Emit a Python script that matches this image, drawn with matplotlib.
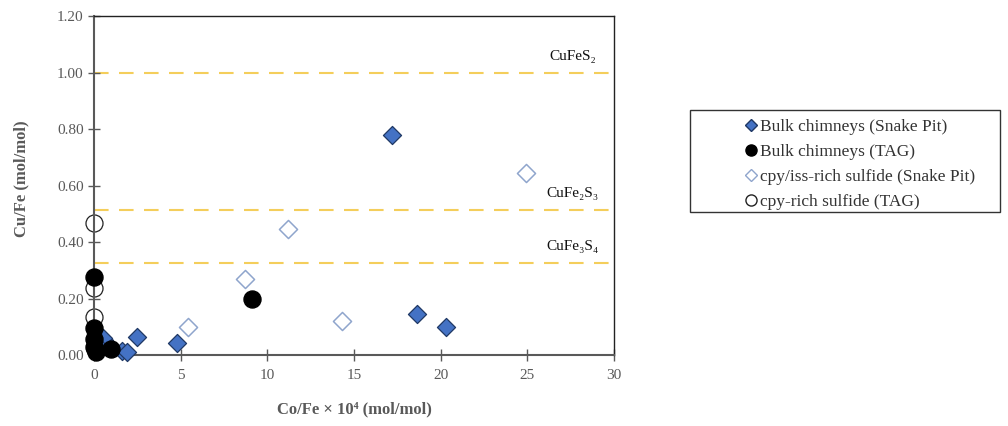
import matplotlib
matplotlib.use("Agg")
import matplotlib.pyplot as plt
from matplotlib.patches import Rectangle
from matplotlib.lines import Line2D

# data (Co/Fe x 10^4, Cu/Fe)
snake_bulk_x = [17.2, 18.6, 20.3, 2.5, 4.8, 1.6, 1.9, 0.6, 0.5, 0.3]
snake_bulk_y = [0.78, 0.145, 0.10, 0.063, 0.042, 0.015, 0.012, 0.053, 0.06, 0.03]

tag_bulk_x = [9.1, 0.95, 0.0, 0.0, 0.0, 0.0, 0.05, 0.1]
tag_bulk_y = [0.20, 0.022, 0.277, 0.095, 0.055, 0.03, 0.02, 0.012]

snake_cpy_x = [24.9, 11.2, 8.7, 14.3, 5.4]
snake_cpy_y = [0.645, 0.445, 0.27, 0.12, 0.10]

tag_cpy_x = [0.0, 0.0, 0.0]
tag_cpy_y = [0.467, 0.238, 0.135]

# reference mineral ratios
mineral_names = ["CuFeS₂", "CuFe₂S₃", "CuFe₃S₄"]
mineral_ratio = [1.00, 0.515, 0.325]

serif = ["Liberation Serif", "DejaVu Serif"]
plt.rcParams["font.family"] = serif
grey = "#595959"

fig = plt.figure(figsize=(10.08, 4.26), dpi=100)
ax = fig.add_axes([0.0933, 0.1667, 0.516, 0.7953])

# dashed reference lines
for name, r in zip(mineral_names, mineral_ratio):
    ax.plot([0, 30], [r, r], color="#F2C232", lw=1.5, dashes=(7, 5), alpha=0.8, zorder=1)
    ax.text(27.6, r + 0.035, name, ha="center", va="bottom", fontsize=11, color="#111111")

ax.scatter(snake_bulk_x, snake_bulk_y, marker="D", s=85, color="#4472C4",
           edgecolor="#1F3864", linewidth=0.9, zorder=3, clip_on=False)
ax.scatter(tag_bulk_x, tag_bulk_y, marker="o", s=150, color="black", zorder=4, clip_on=False)
ax.scatter(snake_cpy_x, snake_cpy_y, marker="D", s=85, facecolor="white",
           edgecolor="#8FA5CC", linewidth=1.1, zorder=3, clip_on=False)
ax.scatter(tag_cpy_x, tag_cpy_y, marker="o", s=150, facecolor="white",
           edgecolor="#222222", linewidth=0.9, zorder=2, clip_on=False)

ax.set_xlim(0, 30)
ax.set_ylim(0, 1.2)
ax.set_xticks([0, 5, 10, 15, 20, 25, 30])
ax.set_yticks([0, 0.2, 0.4, 0.6, 0.8, 1.0, 1.2])
ax.set_yticklabels([f"{v:.2f}" for v in ax.get_yticks()])
ax.tick_params(direction="inout", length=8, width=1, color=grey, labelcolor=grey,
               labelsize=11)
ax.tick_params(axis="x", pad=6)

for side in ["left", "bottom"]:
    ax.spines[side].set_color(grey)
    ax.spines[side].set_linewidth(1.5)
for side in ["top", "right"]:
    ax.spines[side].set_color("#222222")
    ax.spines[side].set_linewidth(1.0)

ax.set_ylabel("Cu/Fe (mol/mol)", fontsize=12, fontweight="bold", color=grey)
ax.yaxis.set_label_coords(-0.125, 0.52)
ax.set_xlabel("Co/Fe × 10⁴ (mol/mol)", fontsize=12, fontweight="bold", color=grey, labelpad=14)

# legend in a separate box
fig.patches.append(Rectangle((0.685, 0.502), 0.307, 0.240, transform=fig.transFigure,
                             facecolor="white", edgecolor="#333333", linewidth=1.0))
handles = [
    Line2D([], [], ls="", marker="D", ms=6, color="#4472C4", markeredgecolor="#1F3864"),
    Line2D([], [], ls="", marker="o", ms=8, color="black"),
    Line2D([], [], ls="", marker="D", ms=6, markerfacecolor="white", markeredgecolor="#8FA5CC"),
    Line2D([], [], ls="", marker="o", ms=8, markerfacecolor="white", markeredgecolor="#222222"),
]
labels = ["Bulk chimneys (Snake Pit)", "Bulk chimneys (TAG)",
          "cpy/iss-rich sulfide (Snake Pit)", "cpy-rich sulfide (TAG)"]
fig.legend(handles, labels, loc="upper left", bbox_to_anchor=(0.724, 0.757),
           frameon=False, fontsize=12.5, handlelength=0.6, handletextpad=0.25,
           labelspacing=0.5, labelcolor="#333333")

fig.savefig("out.png", dpi=100)
